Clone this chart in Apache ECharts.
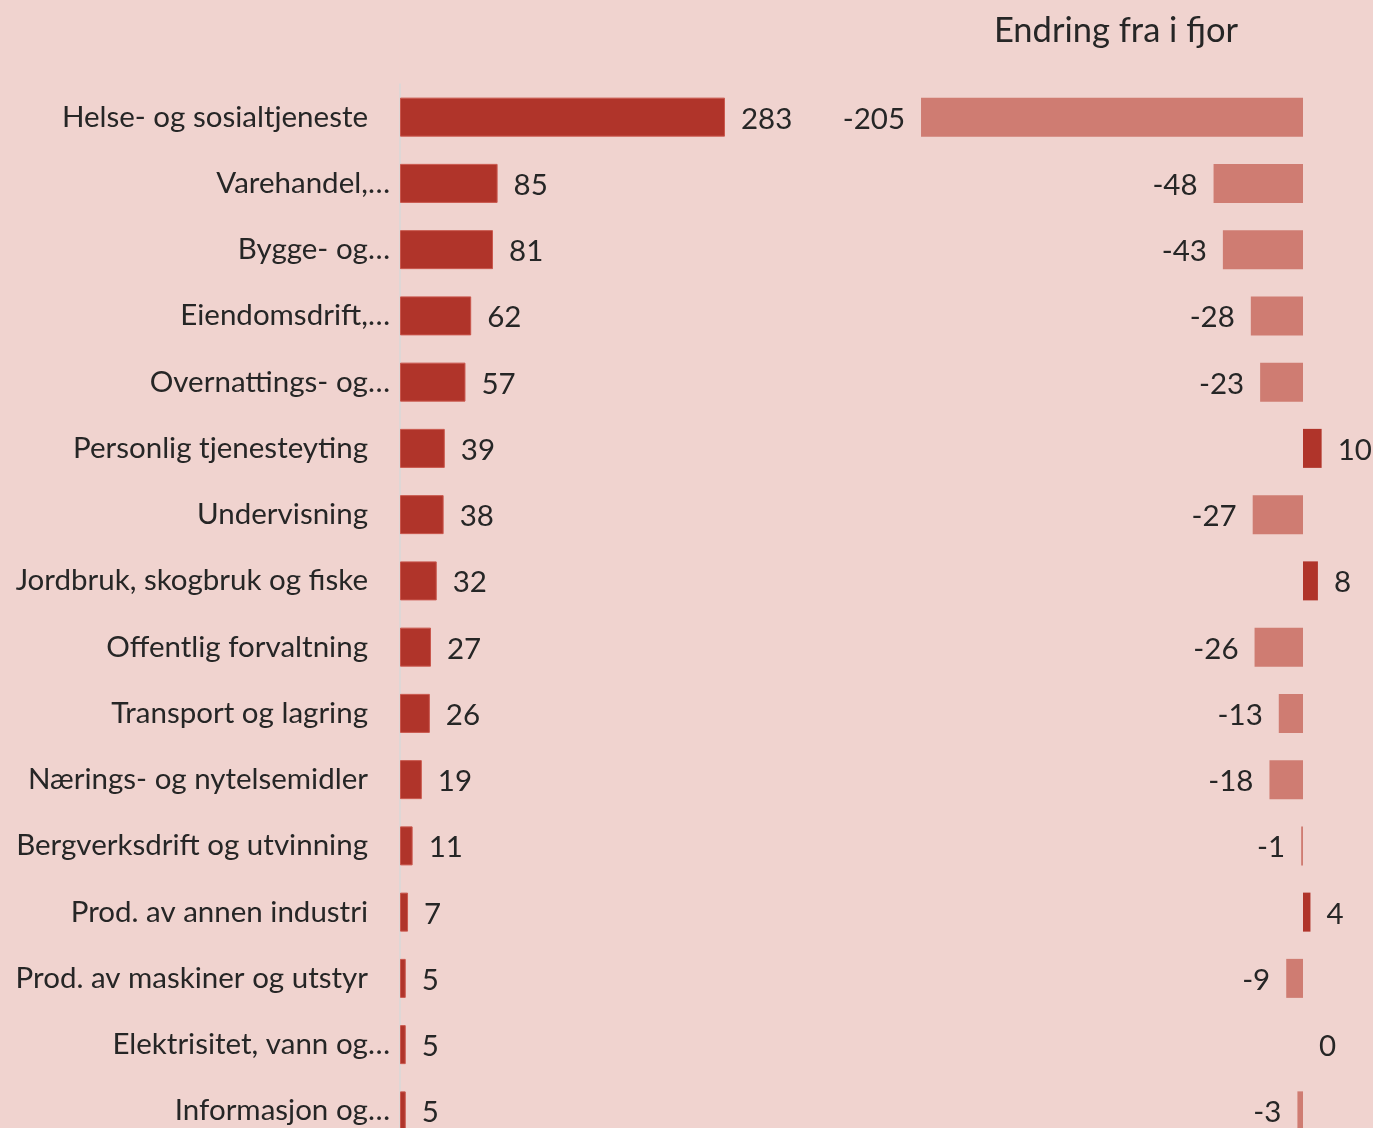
<!DOCTYPE html>
<html>
<head>
<meta charset="utf-8">
<script src="https://cdn.jsdelivr.net/npm/echarts@6/dist/echarts.min.js"></script>
<style>
  html, body { margin: 0; padding: 0; background: #F0D3CF; }
  #chart { width: 1373px; height: 1128px; }
</style>
</head>
<body>
<div id="chart"></div>
<script>
// categories, top to bottom
var categories = [
    'Helse- og sosialtjeneste', 'Varehandel,…', 'Bygge- og…', 'Eiendomsdrift,…',
    'Overnattings- og…', 'Personlig tjenesteyting', 'Undervisning',
    'Jordbruk, skogbruk og fiske', 'Offentlig forvaltning', 'Transport og lagring',
    'Nærings- og nytelsemidler', 'Bergverksdrift og utvinning', 'Prod. av annen industri',
    'Prod. av maskiner og utstyr', 'Elektrisitet, vann og…', 'Informasjon og…'
];
var antall = [283, 85, 81, 62, 57, 39, 38, 32, 27, 26, 19, 11, 7, 5, 5, 5];
var endring = [-205, -48, -43, -28, -23, 10, -27, 8, -26, -13, -18, -1, 4, -9, 0, -3];
var chartTitle = 'Endring fra i fjor';

var darkRed = '#B0342A';
var lightRed = '#CF7C72';
var textColor = '#262626';
var fontFamily = 'Lato, "Open Sans", sans-serif';

var myChart = echarts.init(document.getElementById('chart'));

// colour and label side depend on sign of change
var endringData = endring.map(function (v) {
    return {
        value: v,
        itemStyle: { color: v > 0 ? darkRed : lightRed },
        label: { position: v < 0 ? 'left' : 'right' }
    };
});

var option = {
    backgroundColor: '#F0D3CF',
    animation: false,
    title: {
        text: chartTitle,
        left: 1111,
        top: 8,
        textAlign: 'center',
        textStyle: { fontFamily: fontFamily, fontSize: 34.5, fontWeight: 'normal', color: textColor }
    },
    grid: [
        { left: 400, top: 84, width: 344.5, height: 1060, outerBoundsMode: 'none' },
        { left: 911.7, top: 84, width: 447.2, height: 1060, outerBoundsMode: 'none' }
    ],
    xAxis: [
        { gridIndex: 0, type: 'value', min: 0, max: 300, show: false },
        { gridIndex: 1, type: 'value', min: -210, max: 30, show: false }
    ],
    yAxis: [
        {
            gridIndex: 0, type: 'category', data: categories, inverse: true,
            axisLine: { show: true, lineStyle: { color: '#D9D9D9', width: 1.5 } },
            axisTick: { show: false },
            axisLabel: {
                margin: 10,
                fontFamily: fontFamily, fontSize: 29.5, color: textColor,
                // truncated names let the ellipsis hang closer to the axis
                formatter: function (name) {
                    return name.slice(-1) === '…' ? name : name + '{s|}';
                },
                rich: { s: { width: 22 } }
            }
        },
        {
            gridIndex: 1, type: 'category', data: categories, inverse: true,
            axisLine: { show: false }, axisTick: { show: false }, axisLabel: { show: false }
        }
    ],
    series: [
        {
            type: 'bar', xAxisIndex: 0, yAxisIndex: 0,
            data: antall, barWidth: 39,
            itemStyle: { color: darkRed, borderColor: '#C9574D', borderWidth: 1 },
            label: {
                show: true, position: 'right', distance: 16, offset: [0, 2],
                fontFamily: fontFamily, fontSize: 29.5, color: textColor
            }
        },
        {
            type: 'bar', xAxisIndex: 1, yAxisIndex: 1,
            data: endringData, barWidth: 39,
            label: {
                show: true, distance: 16, offset: [0, 2],
                fontFamily: fontFamily, fontSize: 29.5, color: textColor
            }
        }
    ]
};

myChart.setOption(option);
</script>
</body>
</html>
